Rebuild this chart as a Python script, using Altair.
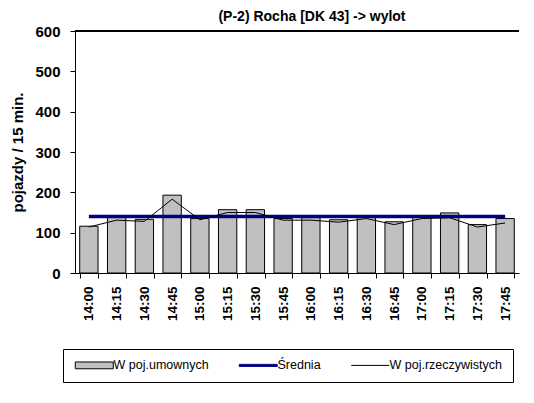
import altair as alt
import pandas as pd

# ---- data ----
times = ["14:00", "14:15", "14:30", "14:45", "15:00", "15:15", "15:30", "15:45",
         "16:00", "16:15", "16:30", "16:45", "17:00", "17:15", "17:30", "17:45"]
umowne = [116, 140, 133, 193, 135, 157, 157, 135, 139, 132, 139, 127, 139, 149, 120, 135]
rzeczywiste = [114, 131, 128, 183, 132, 150, 150, 131, 131, 126, 135, 120, 135, 137, 114, 124]

series = ["W poj.umownych", "Średnia", "W poj.rzeczywistych"]
series_fill = ["#c0c0c0", "#000080", "transparent"]
series_stroke = ["#000000", "#000080", "#000000"]
series_shape = ["M-4.75,-0.85H4.75V0.85H-4.75Z",
                "M-4.75,-0.25H4.75V0.25H-4.75Z",
                "M-4.75,0H4.75"]
y_ticks = [0, 100, 200, 300, 400, 500, 600]

df = pd.DataFrame({"czas": times, "umowne": umowne, "rzecz": rzeczywiste})
leg = pd.DataFrame({"seria": series})

FONT = "Liberation Sans"
W, H = 444, 242

x_enc = alt.X(
    "czas:N", sort=times, title=None,
    scale=alt.Scale(paddingInner=0.34, paddingOuter=0.17),
    axis=alt.Axis(labelAngle=-90, labelFont=FONT, labelFontSize=13.5, labelFontWeight="bold",
                  labelColor="black", labelPadding=8, tickBand="extent", tickSize=5,
                  tickColor="black", domainColor="black", grid=False),
)

y_axis = alt.Axis(values=y_ticks, grid=False, labelOverlap=False, labelFont=FONT, labelFontSize=15,
                  labelFontWeight="bold", labelColor="black", labelPadding=10,
                  tickSize=5, tickColor="black", domainColor="black",
                  titleFont=FONT, titleFontSize=15, titleFontWeight="bold",
                  titleColor="black", titlePadding=9)
y_scale = alt.Scale(domain=[0, 600], nice=False)
Y_TITLE = "pojazdy / 15 min."

base = alt.Chart(df)

bars = base.mark_bar(color="#c0c0c0", stroke="black", strokeWidth=1).encode(
    x=x_enc,
    y=alt.Y("umowne:Q", title=Y_TITLE, scale=y_scale, axis=y_axis),
)

mean_line = base.transform_joinaggregate(srednia="mean(umowne)").mark_line(
    color="#000080", strokeWidth=3.5
).encode(
    x=x_enc,
    y=alt.Y("srednia:Q", title=Y_TITLE, scale=y_scale, axis=y_axis),
)

real_line = base.mark_line(color="black", strokeWidth=1).encode(
    x=x_enc,
    y=alt.Y("rzecz:Q", title=Y_TITLE, scale=y_scale, axis=y_axis),
)

top_rule = alt.Chart(df).mark_rule(color="black", strokeWidth=1).encode(
    y=alt.datum(600)
)

legend = alt.Legend(orient="none", legendX=-12, legendY=318, direction="horizontal",
                    title=None, symbolSize=64, symbolOffset=15, labelOffset=13,
                    symbolStrokeWidth=1, columnPadding=28, padding=10, strokeColor="black",
                    labelFont=FONT, labelFontSize=12.5, labelColor="black")

legend_layer = alt.Chart(leg).transform_filter("false").mark_point(
    filled=True, opacity=1, strokeWidth=1
).encode(
    fill=alt.Fill("seria:N", sort=series, scale=alt.Scale(domain=series, range=series_fill), legend=legend),
    stroke=alt.Stroke("seria:N", sort=series, scale=alt.Scale(domain=series, range=series_stroke), legend=legend),
    shape=alt.Shape("seria:N", sort=series, scale=alt.Scale(domain=series, range=series_shape), legend=legend),
)

chart = alt.layer(bars, mean_line, real_line, top_rule, legend_layer).properties(
    width=W, height=H,
    padding={"left": 2, "top": 2, "right": 0, "bottom": 0},
    title=alt.TitleParams("(P-2) Rocha [DK 43] -> wylot", font=FONT, fontSize=14,
                          fontWeight="bold", color="black", offset=0, anchor="middle", dx=15),
).configure_view(stroke=None)

chart.save("out.html", embed_options={"renderer": "svg", "actions": False})
